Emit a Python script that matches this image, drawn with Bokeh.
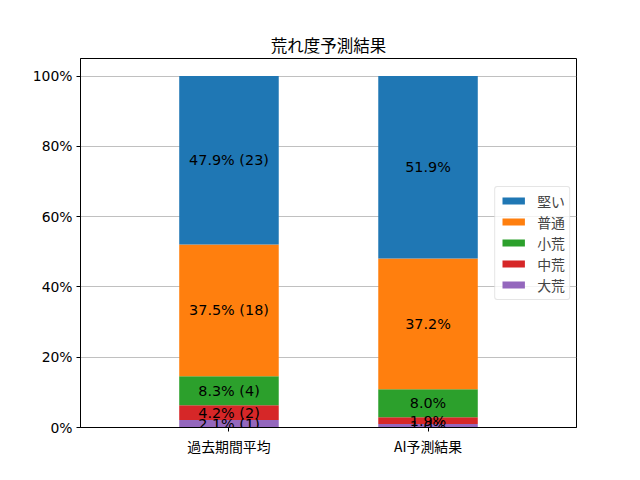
import numpy as np
from bokeh.plotting import figure
from bokeh.models import ColumnDataSource, Legend, LegendItem, FixedTicker, Range1d
from bokeh.core.properties import value
from bokeh.embed import file_html
from bokeh.resources import INLINE

categories = ["過去期間平均", "AI予測結果"]
segments = ["大荒", "中荒", "小荒", "普通", "堅い"]  # bottom to top
past_pct = [2.1, 4.2, 8.3, 37.5, 47.9]
past_cnt = [1, 2, 4, 18, 23]
ai_pct = [1.0, 1.9, 8.0, 37.2, 51.9]
colors = ["#9467bd", "#d62728", "#2ca02c", "#ff7f0e", "#1f77b4"]
y_ticks = [0, 20, 40, 60, 80, 100]

JP = "Noto Sans CJK JP"
LAT = "DejaVu Sans"
FS = "13.9px"

p = figure(width=624, height=464, output_backend="svg", toolbar_location=None,
           frame_width=496, frame_height=369,
           min_border_left=80, min_border_top=58, min_border_right=48, min_border_bottom=37,
           x_range=Range1d(-0.746, 1.746), y_range=Range1d(0, 105),
           title="荒れ度予測結果")

xs = [0, 1]
data = {"x": xs}
for i, s in enumerate(segments):
    data[s] = [past_pct[i], ai_pct[i]]
src = ColumnDataSource(data)
renderers = p.vbar_stack(segments, x="x", width=0.5, color=colors, source=src, line_width=0)

# labels
vals = np.array([past_pct, ai_pct])
tops = np.cumsum(vals, axis=1)
mids = tops - vals / 2
lx, ly, lt = [], [], []
for j in range(2):
    for i in range(len(segments)):
        lx.append(xs[j])
        ly.append(mids[j, i])
        if j == 0:
            lt.append(f"{past_pct[i]:.1f}% ({past_cnt[i]})")
        else:
            lt.append(f"{ai_pct[i]:.1f}%")
p.text(x=lx, y=ly, text=lt, text_align="center", text_baseline="middle",
       text_font=value(LAT), text_font_size="14.4px", text_color="black")

# legend (top to bottom: 堅い ... 大荒)
items = [LegendItem(label=segments[i], renderers=[renderers[i]]) for i in reversed(range(len(segments)))]
legend = Legend(items=items, location="right")
legend.label_text_font = JP
legend.label_text_font_size = FS
legend.glyph_width = 28
legend.glyph_height = 9
legend.label_height = 14
legend.spacing = 1
legend.padding = 4
legend.margin = 6
legend.label_standoff = 10
legend.border_line_color = "#cccccc"
legend.border_radius = 3
legend.background_fill_alpha = 0.8
p.add_layout(legend, "center")

# title
p.title.align = "center"
p.title.text_font = JP
p.title.text_font_size = "16.5px"
p.title.text_font_style = "normal"
p.title.text_color = "black"
p.title.offset = 0
p.title.standoff = 3

# axes
p.xaxis.ticker = FixedTicker(ticks=xs)
p.xaxis.major_label_overrides = {0: categories[0], 1: categories[1]}
p.xaxis.major_label_text_font = JP
p.yaxis.ticker = FixedTicker(ticks=y_ticks)
p.yaxis.major_label_overrides = {t: f"{t}%" for t in y_ticks}
p.yaxis.major_label_text_font = LAT
for ax in (p.xaxis, p.yaxis):
    ax.major_label_text_font_size = FS
    ax.major_label_text_color = "black"
    ax.axis_line_color = "black"
    ax.major_tick_line_color = "black"
    ax.major_tick_out = 4
    ax.major_tick_in = 0
    ax.minor_tick_line_color = None
    ax.major_label_standoff = 4
p.xgrid.grid_line_color = None
p.ygrid.grid_line_color = "#b0b0b0"
p.ygrid.grid_line_width = 0.8
p.outline_line_color = "black"
p.outline_line_alpha = 1
p.background_fill_color = "white"

open("out.html", "w").write(file_html(p, INLINE))
